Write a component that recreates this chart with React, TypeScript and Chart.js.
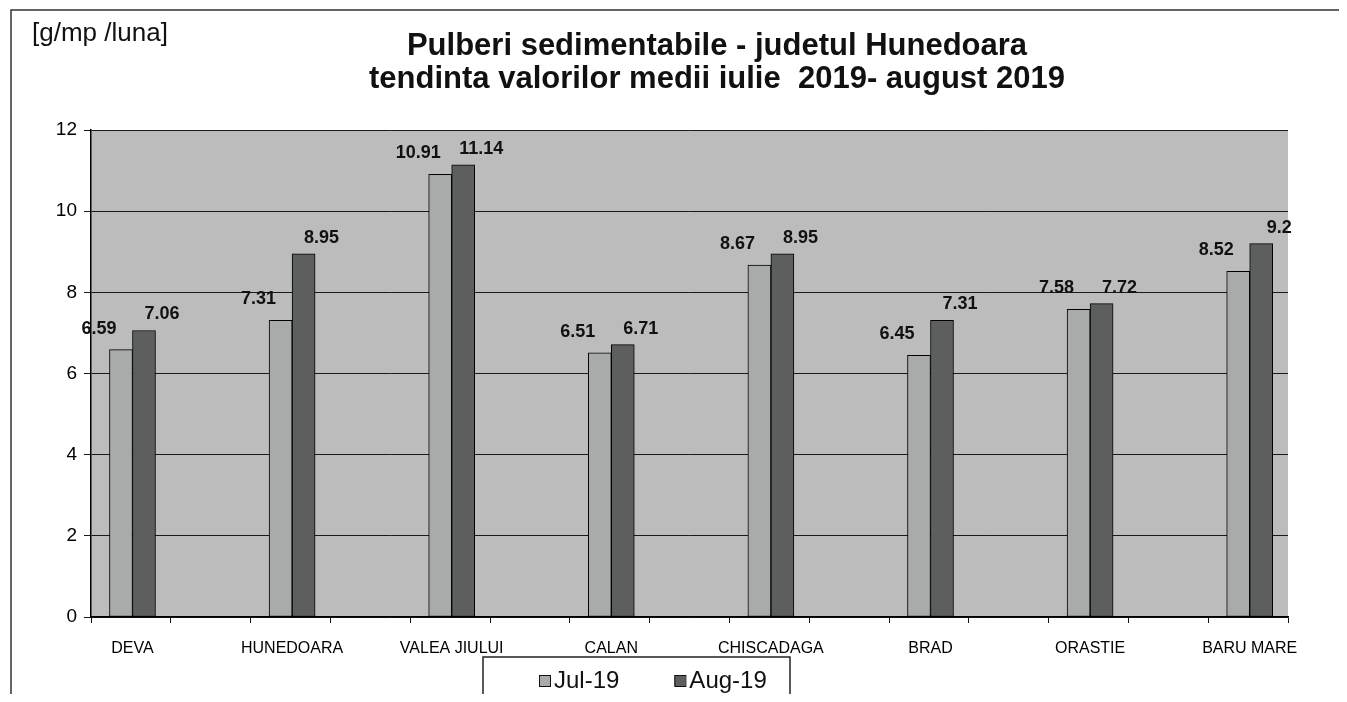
import React, { useEffect, useRef } from 'react';
import { Chart, registerables } from 'chart.js';

Chart.register(...registerables);

// ---- data ----
const categories = ['DEVA', 'HUNEDOARA', 'VALEA JIULUI', 'CALAN', 'CHISCADAGA', 'BRAD', 'ORASTIE', 'BARU MARE'];
const jul19 = [6.59, 7.31, 10.91, 6.51, 8.67, 6.45, 7.58, 8.52];
const aug19 = [7.06, 8.95, 11.14, 6.71, 8.95, 7.31, 7.72, 9.2];
const seriesLabels = ['Jul-19', 'Aug-19'];
const yMin = 0;
const yMax = 12;
const yStep = 2;
const unitLabel = '[g/mp /luna]';
const titleLines = ['Pulberi sedimentabile - judetul Hunedoara', 'tendinta valorilor medii iulie  2019- august 2019'];

// ---- style ----
const FONT = "'Liberation Sans', Arial, Helvetica, sans-serif";
const W = 1331;
const H = 694;
const PLOT_BG = '#bcbcbc';
const LIGHT = '#a9abab';
const DARK = '#5c5f5e';
const X_MIN = -0.26;
const X_MAX = 7.24;
const tickMarks = Array.from({ length: 16 }, (_, k) => X_MIN + 0.5 * k);

const bgPlugin = {
  id: 'plotBg',
  beforeDraw(chart: any) {
    const { ctx, chartArea } = chart;
    ctx.save();
    ctx.fillStyle = PLOT_BG;
    ctx.fillRect(chartArea.left, chartArea.top, chartArea.right - chartArea.left, chartArea.bottom - chartArea.top);
    ctx.restore();
  },
};

const labelPlugin = {
  id: 'valueLabels',
  afterDatasetsDraw(chart: any) {
    const { ctx } = chart;
    ctx.save();
    ctx.font = `bold 18px ${FONT}`;
    ctx.fillStyle = '#111';
    ctx.textAlign = 'center';
    ctx.textBaseline = 'bottom';
    chart.data.datasets.forEach((ds: any, di: number) => {
      const meta = chart.getDatasetMeta(di);
      const dx = di === 0 ? -22 : 18;
      const dy = di === 0 ? 12 : 7;
      meta.data.forEach((el: any, i: number) => {
        const v = ds.data[i].y;
        ctx.fillText(String(v), el.x + dx, el.y - dy);
      });
    });
    ctx.restore();
  },
};

const framePlugin = {
  id: 'frame',
  afterDraw(chart: any) {
    const { ctx } = chart;
    ctx.save();
    // outer frame (top and left edges)
    ctx.strokeStyle = '#333';
    ctx.lineWidth = 1.5;
    ctx.beginPath();
    ctx.moveTo(W, 2);
    ctx.lineTo(3, 2);
    ctx.lineTo(3, H + 20);
    ctx.stroke();

    // unit label
    ctx.fillStyle = '#111';
    ctx.font = `26px ${FONT}`;
    ctx.textAlign = 'left';
    ctx.textBaseline = 'middle';
    ctx.fillText(unitLabel, 24, 26);

    // title
    ctx.font = `bold 31px ${FONT}`;
    ctx.textAlign = 'center';
    ctx.fillText(titleLines[0], 709, 38);
    ctx.fillText(titleLines[1], 709, 71);

    // legend box
    const bx = 475;
    const by = 649;
    ctx.strokeStyle = '#222';
    ctx.lineWidth = 1.5;
    ctx.strokeRect(bx, by, 307, 80);
    ctx.font = `24px ${FONT}`;
    ctx.textAlign = 'left';
    ctx.textBaseline = 'middle';
    let x = bx + 56;
    const cy = by + 24;
    chart.data.datasets.forEach((ds: any) => {
      ctx.fillStyle = ds.backgroundColor;
      ctx.fillRect(x, cy - 6, 11, 11);
      ctx.strokeStyle = '#111';
      ctx.lineWidth = 1;
      ctx.strokeRect(x + 0.5, cy - 5.5, 11, 11);
      ctx.fillStyle = '#111';
      ctx.fillText(ds.label, x + 15, cy);
      x += 15 + ctx.measureText(ds.label).width + 55;
    });
    ctx.restore();
  },
};

export default function App() {
  const ref = useRef<HTMLCanvasElement | null>(null);
  useEffect(() => {
    if (!ref.current) return;
    const chart = new Chart(ref.current, {
      type: 'bar',
      data: {
        datasets: [
          {
            label: seriesLabels[0],
            data: jul19.map((y, i) => ({ x: i, y })),
            backgroundColor: LIGHT,
            borderColor: '#000',
            borderWidth: 1,
            borderSkipped: false,
            barThickness: 23,
            xAxisID: 'x',
            yAxisID: 'y',
          },
          {
            label: seriesLabels[1],
            data: aug19.map((y, i) => ({ x: i, y })),
            backgroundColor: DARK,
            borderColor: '#000',
            borderWidth: 1,
            borderSkipped: false,
            barThickness: 23,
            xAxisID: 'x',
            yAxisID: 'y',
          },
        ] as any,
      },
      options: {
        animation: false,
        responsive: false,
        events: [],
        layout: { padding: { left: 43, right: 51, top: 122, bottom: 49 } },
        plugins: {
          legend: { display: false },
          title: { display: false },
          tooltip: { enabled: false },
        },
        scales: {
          xt: {
            type: 'linear',
            position: 'bottom',
            weight: 0,
            min: X_MIN,
            max: X_MAX,
            offset: false,
            grid: { display: true, drawOnChartArea: false, drawTicks: true, tickLength: 6, color: '#111', lineWidth: 1, offset: false },
            border: { display: true, color: '#000', width: 1.5 },
            ticks: { display: false },
            afterBuildTicks: (s: any) => {
              s.ticks = tickMarks.map((v) => ({ value: v }));
            },
            afterFit: (s: any) => {
              s.height = 6;
            },
          },
          x: {
            type: 'linear',
            position: 'bottom',
            weight: 1,
            min: X_MIN,
            max: X_MAX,
            offset: false,
            grid: { display: false, offset: false },
            border: { display: false },
            ticks: {
              autoSkip: false,
              maxRotation: 0,
              minRotation: 0,
              padding: 8,
              color: '#000',
              font: { family: FONT, size: 16 },
              callback: (_v: any, i: number) => categories[i] ?? '',
            },
            afterBuildTicks: (s: any) => {
              s.ticks = categories.map((_, i) => ({ value: i }));
            },
            afterFit: (s: any) => {
              s.height = 30;
            },
          },
          y: {
            type: 'linear',
            min: yMin,
            max: yMax,
            ticks: { stepSize: yStep, color: '#000', padding: 7, font: { family: FONT, size: 19 } },
            grid: { color: '#1a1a1a', lineWidth: 1, tickLength: 7 },
            border: { display: true, color: '#000', width: 1.5 },
            afterFit: (s: any) => {
              s.width = 40;
            },
          },
        } as any,
      },
      plugins: [bgPlugin, labelPlugin, framePlugin],
    });
    return () => chart.destroy();
  }, []);

  return (
    <div style={{ width: W, height: H, marginBottom: -8, overflow: 'hidden' }}>
      <canvas ref={ref} width={W} height={H} style={{ display: 'block', width: W, height: H }} />
    </div>
  );
}
